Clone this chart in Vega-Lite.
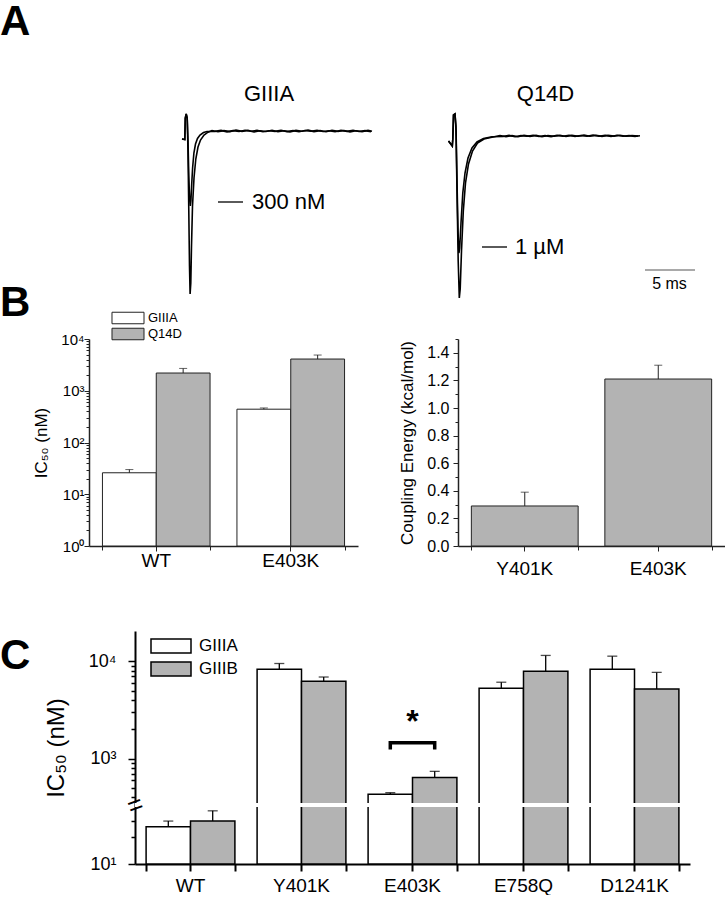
{
  "$schema": "https://vega.github.io/schema/vega-lite/v6.json",
  "padding": 0,
  "background": "white",
  "config": {
    "font": "Liberation Sans",
    "view": {"stroke": null},
    "axis": {"labelColor": "black", "titleColor": "black", "domainColor": "black", "tickColor": "black", "grid": false, "labelFont": "Liberation Sans", "titleFont": "Liberation Sans", "titleFontWeight": "normal"},
    "title": {"font": "Liberation Sans", "color": "black"},
    "legend": {"labelFont": "Liberation Sans", "labelColor": "black", "padding": 0},
    "text": {"font": "Liberation Sans", "color": "black"}
  },
  "datasets": {
    "traceG": [
      {"s": "control", "k": 0, "t": 0, "i": -0.08}, {"s": "control", "k": 1, "t": 0.28, "i": -0.085}, {"s": "control", "k": 2, "t": 0.33, "i": 0.13}, {"s": "control", "k": 3, "t": 0.42, "i": 0.17}, {"s": "control", "k": 4, "t": 0.52, "i": 0.13},
      {"s": "control", "k": 5, "t": 0.6, "i": -0.2}, {"s": "control", "k": 6, "t": 0.68, "i": -0.8}, {"s": "control", "k": 7, "t": 0.75, "i": -1.35}, {"s": "control", "k": 8, "t": 0.81, "i": -1.63}, {"s": "control", "k": 9, "t": 0.88, "i": -1.52},
      {"s": "control", "k": 10, "t": 0.95, "i": -1.15}, {"s": "control", "k": 11, "t": 1.05, "i": -0.75}, {"s": "control", "k": 12, "t": 1.2, "i": -0.47}, {"s": "control", "k": 13, "t": 1.38, "i": -0.28}, {"s": "control", "k": 14, "t": 1.6, "i": -0.16},
      {"s": "control", "k": 15, "t": 1.85, "i": -0.09}, {"s": "control", "k": 16, "t": 2.2, "i": -0.04}, {"s": "control", "k": 17, "t": 2.6, "i": -0.012},
      {"s": "control", "k": 18, "t": 3.0, "i": 0.005}, {"s": "control", "k": 19, "t": 3.6, "i": -0.008}, {"s": "control", "k": 20, "t": 4.2, "i": 0.004}, {"s": "control", "k": 21, "t": 4.8, "i": -0.006}, {"s": "control", "k": 22, "t": 5.4, "i": 0.01},
      {"s": "control", "k": 23, "t": 6.0, "i": -0.004}, {"s": "control", "k": 24, "t": 6.6, "i": 0.006}, {"s": "control", "k": 25, "t": 7.2, "i": -0.01}, {"s": "control", "k": 26, "t": 7.8, "i": 0.003}, {"s": "control", "k": 27, "t": 8.4, "i": -0.005},
      {"s": "control", "k": 28, "t": 9.0, "i": 0.008}, {"s": "control", "k": 29, "t": 9.6, "i": -0.007}, {"s": "control", "k": 30, "t": 10.2, "i": 0.002}, {"s": "control", "k": 31, "t": 10.8, "i": -0.009}, {"s": "control", "k": 32, "t": 11.4, "i": 0.006},
      {"s": "control", "k": 33, "t": 12.0, "i": -0.003}, {"s": "control", "k": 34, "t": 12.6, "i": 0.009}, {"s": "control", "k": 35, "t": 13.2, "i": -0.006}, {"s": "control", "k": 36, "t": 13.8, "i": 0.004}, {"s": "control", "k": 37, "t": 14.4, "i": -0.008},
      {"s": "control", "k": 38, "t": 15.0, "i": 0.007}, {"s": "control", "k": 39, "t": 15.6, "i": -0.004}, {"s": "control", "k": 40, "t": 16.2, "i": 0.005}, {"s": "control", "k": 41, "t": 16.8, "i": -0.009}, {"s": "control", "k": 42, "t": 17.4, "i": 0.003},
      {"s": "control", "k": 43, "t": 18.0, "i": -0.006}, {"s": "control", "k": 44, "t": 18.6, "i": 0.006}, {"s": "control", "k": 45, "t": 19.0, "i": -0.003},
      {"s": "toxin", "k": 0, "t": 0, "i": -0.08}, {"s": "toxin", "k": 1, "t": 0.28, "i": -0.085}, {"s": "toxin", "k": 2, "t": 0.33, "i": 0.13}, {"s": "toxin", "k": 3, "t": 0.42, "i": 0.17}, {"s": "toxin", "k": 4, "t": 0.52, "i": 0.13},
      {"s": "toxin", "k": 5, "t": 0.6, "i": -0.1}, {"s": "toxin", "k": 6, "t": 0.68, "i": -0.45}, {"s": "toxin", "k": 7, "t": 0.76, "i": -0.68}, {"s": "toxin", "k": 8, "t": 0.83, "i": -0.75}, {"s": "toxin", "k": 9, "t": 0.89, "i": -0.7},
      {"s": "toxin", "k": 10, "t": 0.96, "i": -0.55}, {"s": "toxin", "k": 11, "t": 1.06, "i": -0.37}, {"s": "toxin", "k": 12, "t": 1.19, "i": -0.22}, {"s": "toxin", "k": 13, "t": 1.35, "i": -0.13}, {"s": "toxin", "k": 14, "t": 1.55, "i": -0.075},
      {"s": "toxin", "k": 15, "t": 1.8, "i": -0.04}, {"s": "toxin", "k": 16, "t": 2.15, "i": -0.015}, {"s": "toxin", "k": 17, "t": 2.5, "i": -0.005},
      {"s": "toxin", "k": 18, "t": 3.3, "i": -0.004}, {"s": "toxin", "k": 19, "t": 3.9, "i": 0.006}, {"s": "toxin", "k": 20, "t": 4.5, "i": -0.009}, {"s": "toxin", "k": 21, "t": 5.1, "i": 0.004}, {"s": "toxin", "k": 22, "t": 5.7, "i": -0.005},
      {"s": "toxin", "k": 23, "t": 6.3, "i": 0.008}, {"s": "toxin", "k": 24, "t": 6.9, "i": -0.003}, {"s": "toxin", "k": 25, "t": 7.5, "i": 0.006}, {"s": "toxin", "k": 26, "t": 8.1, "i": -0.008}, {"s": "toxin", "k": 27, "t": 8.7, "i": 0.003},
      {"s": "toxin", "k": 28, "t": 9.3, "i": -0.004}, {"s": "toxin", "k": 29, "t": 9.9, "i": 0.007}, {"s": "toxin", "k": 30, "t": 10.5, "i": -0.006}, {"s": "toxin", "k": 31, "t": 11.1, "i": 0.004}, {"s": "toxin", "k": 32, "t": 11.7, "i": -0.007},
      {"s": "toxin", "k": 33, "t": 12.3, "i": 0.005}, {"s": "toxin", "k": 34, "t": 12.9, "i": -0.003}, {"s": "toxin", "k": 35, "t": 13.5, "i": 0.008}, {"s": "toxin", "k": 36, "t": 14.1, "i": -0.005}, {"s": "toxin", "k": 37, "t": 14.7, "i": 0.002},
      {"s": "toxin", "k": 38, "t": 15.3, "i": -0.008}, {"s": "toxin", "k": 39, "t": 15.9, "i": 0.006}, {"s": "toxin", "k": 40, "t": 16.5, "i": -0.004}, {"s": "toxin", "k": 41, "t": 17.1, "i": 0.007}, {"s": "toxin", "k": 42, "t": 17.7, "i": -0.005},
      {"s": "toxin", "k": 43, "t": 18.3, "i": 0.004}, {"s": "toxin", "k": 44, "t": 18.9, "i": -0.006}
    ],
    "traceQ": [
      {"s": "control", "k": 0, "t": -0.15, "i": -0.1}, {"s": "control", "k": 1, "t": 0.23, "i": -0.15}, {"s": "control", "k": 2, "t": 0.28, "i": -0.08}, {"s": "control", "k": 3, "t": 0.35, "i": 0.16}, {"s": "control", "k": 4, "t": 0.5, "i": 0.17},
      {"s": "control", "k": 5, "t": 0.6, "i": 0.0}, {"s": "control", "k": 6, "t": 0.7, "i": -0.6}, {"s": "control", "k": 7, "t": 0.82, "i": -1.3}, {"s": "control", "k": 8, "t": 0.93, "i": -1.67}, {"s": "control", "k": 9, "t": 1.02, "i": -1.58},
      {"s": "control", "k": 10, "t": 1.15, "i": -1.2}, {"s": "control", "k": 11, "t": 1.33, "i": -0.8}, {"s": "control", "k": 12, "t": 1.55, "i": -0.52}, {"s": "control", "k": 13, "t": 1.85, "i": -0.33}, {"s": "control", "k": 14, "t": 2.25, "i": -0.2},
      {"s": "control", "k": 15, "t": 2.75, "i": -0.12}, {"s": "control", "k": 16, "t": 3.4, "i": -0.08}, {"s": "control", "k": 17, "t": 4.3, "i": -0.06},
      {"s": "control", "k": 18, "t": 5.0, "i": -0.045}, {"s": "control", "k": 19, "t": 5.6, "i": -0.056}, {"s": "control", "k": 20, "t": 6.2, "i": -0.046}, {"s": "control", "k": 21, "t": 6.8, "i": -0.057}, {"s": "control", "k": 22, "t": 7.4, "i": -0.043},
      {"s": "control", "k": 23, "t": 8.0, "i": -0.054}, {"s": "control", "k": 24, "t": 8.6, "i": -0.044}, {"s": "control", "k": 25, "t": 9.2, "i": -0.058}, {"s": "control", "k": 26, "t": 9.8, "i": -0.045}, {"s": "control", "k": 27, "t": 10.4, "i": -0.052},
      {"s": "control", "k": 28, "t": 11.0, "i": -0.042}, {"s": "control", "k": 29, "t": 11.6, "i": -0.055}, {"s": "control", "k": 30, "t": 12.2, "i": -0.044}, {"s": "control", "k": 31, "t": 12.8, "i": -0.053}, {"s": "control", "k": 32, "t": 13.4, "i": -0.041},
      {"s": "control", "k": 33, "t": 14.0, "i": -0.052}, {"s": "control", "k": 34, "t": 14.6, "i": -0.043}, {"s": "control", "k": 35, "t": 15.2, "i": -0.054}, {"s": "control", "k": 36, "t": 15.8, "i": -0.042}, {"s": "control", "k": 37, "t": 16.4, "i": -0.051},
      {"s": "control", "k": 38, "t": 17.0, "i": -0.043}, {"s": "control", "k": 39, "t": 17.6, "i": -0.053}, {"s": "control", "k": 40, "t": 18.2, "i": -0.045}, {"s": "control", "k": 41, "t": 18.8, "i": -0.05},
      {"s": "toxin", "k": 0, "t": -0.15, "i": -0.1}, {"s": "toxin", "k": 1, "t": 0.23, "i": -0.15}, {"s": "toxin", "k": 2, "t": 0.28, "i": -0.08}, {"s": "toxin", "k": 3, "t": 0.35, "i": 0.16}, {"s": "toxin", "k": 4, "t": 0.5, "i": 0.17},
      {"s": "toxin", "k": 5, "t": 0.6, "i": 0.05}, {"s": "toxin", "k": 6, "t": 0.7, "i": -0.5}, {"s": "toxin", "k": 7, "t": 0.8, "i": -1.0}, {"s": "toxin", "k": 8, "t": 0.89, "i": -1.22}, {"s": "toxin", "k": 9, "t": 0.97, "i": -1.17},
      {"s": "toxin", "k": 10, "t": 1.1, "i": -0.92}, {"s": "toxin", "k": 11, "t": 1.28, "i": -0.62}, {"s": "toxin", "k": 12, "t": 1.5, "i": -0.42}, {"s": "toxin", "k": 13, "t": 1.8, "i": -0.27}, {"s": "toxin", "k": 14, "t": 2.2, "i": -0.17},
      {"s": "toxin", "k": 15, "t": 2.7, "i": -0.11}, {"s": "toxin", "k": 16, "t": 3.35, "i": -0.075}, {"s": "toxin", "k": 17, "t": 4.2, "i": -0.058},
      {"s": "toxin", "k": 18, "t": 5.3, "i": -0.055}, {"s": "toxin", "k": 19, "t": 5.9, "i": -0.044}, {"s": "toxin", "k": 20, "t": 6.5, "i": -0.057}, {"s": "toxin", "k": 21, "t": 7.1, "i": -0.046}, {"s": "toxin", "k": 22, "t": 7.7, "i": -0.053},
      {"s": "toxin", "k": 23, "t": 8.3, "i": -0.042}, {"s": "toxin", "k": 24, "t": 8.9, "i": -0.055}, {"s": "toxin", "k": 25, "t": 9.5, "i": -0.046}, {"s": "toxin", "k": 26, "t": 10.1, "i": -0.056}, {"s": "toxin", "k": 27, "t": 10.7, "i": -0.044},
      {"s": "toxin", "k": 28, "t": 11.3, "i": -0.052}, {"s": "toxin", "k": 29, "t": 11.9, "i": -0.043}, {"s": "toxin", "k": 30, "t": 12.5, "i": -0.054}, {"s": "toxin", "k": 31, "t": 13.1, "i": -0.045}, {"s": "toxin", "k": 32, "t": 13.7, "i": -0.052},
      {"s": "toxin", "k": 33, "t": 14.3, "i": -0.041}, {"s": "toxin", "k": 34, "t": 14.9, "i": -0.053}, {"s": "toxin", "k": 35, "t": 15.5, "i": -0.044}, {"s": "toxin", "k": 36, "t": 16.1, "i": -0.055}, {"s": "toxin", "k": 37, "t": 16.7, "i": -0.043},
      {"s": "toxin", "k": 38, "t": 17.3, "i": -0.052}, {"s": "toxin", "k": 39, "t": 17.9, "i": -0.046}, {"s": "toxin", "k": 40, "t": 18.5, "i": -0.054}, {"s": "toxin", "k": 41, "t": 19.0, "i": -0.048}
    ],
    "annG": [{"t": 3.6, "t2": 6.1, "i": -0.71, "label": "300 nM", "tl": 7.0}],
    "annQ": [{"t": 3.2, "t2": 5.7, "i": -1.16, "label": "1 µM", "tl": 6.5}],
    "scalebar": [{"t": 19.5, "t2": 24.5, "i": -1.39, "label": "5 ms", "tl": 21.95, "il": -1.53}],
    "b1": [
      {"g": "WT", "tox": "GIIIA", "v": 26, "hi": 30},
      {"g": "WT", "tox": "Q14D", "v": 2200, "hi": 2700},
      {"g": "E403K", "tox": "GIIIA", "v": 440, "hi": 465},
      {"g": "E403K", "tox": "Q14D", "v": 4100, "hi": 4900}
    ],
    "b2": [
      {"m": "Y401K", "e": 0.29, "hi": 0.39},
      {"m": "E403K", "e": 1.21, "hi": 1.31}
    ],
    "c": [
      {"m": "WT", "tox": "GIIIA", "v": 26, "hi": 30},
      {"m": "WT", "tox": "GIIIB", "v": 30, "hi": 39},
      {"m": "Y401K", "tox": "GIIIA", "v": 8300, "hi": 9500},
      {"m": "Y401K", "tox": "GIIIB", "v": 6250, "hi": 6900},
      {"m": "E403K", "tox": "GIIIA", "v": 430, "hi": 446},
      {"m": "E403K", "tox": "GIIIB", "v": 640, "hi": 740},
      {"m": "E758Q", "tox": "GIIIA", "v": 5300, "hi": 6100},
      {"m": "E758Q", "tox": "GIIIB", "v": 7900, "hi": 11500},
      {"m": "D1241K", "tox": "GIIIA", "v": 8300, "hi": 11300},
      {"m": "D1241K", "tox": "GIIIB", "v": 5200, "hi": 7700}
    ],
    "bracket": [
      {"m": "E403K", "tox": "GIIIA", "y": 1240, "k": 0},
      {"m": "E403K", "tox": "GIIIA", "y": 1460, "k": 1},
      {"m": "E403K", "tox": "GIIIB", "y": 1460, "k": 2},
      {"m": "E403K", "tox": "GIIIB", "y": 1240, "k": 3}
    ],
    "star": [{"m": "E403K", "y": 2400, "label": "*"}],
    "brk": [{"b": 120}],
    "empty": [{"z": 0}]
  },
  "columns": 1,
  "spacing": 50,
  "resolve": {"scale": {"fill": "independent", "xOffset": "independent"}, "legend": {"fill": "independent"}},
  "concat": [
    {
      "columns": 1,
      "spacing": -20,
      "resolve": {"scale": {"fill": "independent", "xOffset": "independent"}, "legend": {"fill": "independent"}},
      "concat": [
        {
          "title": {"text": "A", "anchor": "start", "frame": "group", "fontSize": 42, "fontWeight": "bold", "offset": 39},
          "bounds": "flush",
          "spacing": 17,
          "hconcat": [
            {
              "width": 378, "height": 187,
              "title": {"text": "GIIIA", "fontSize": 22, "fontWeight": "normal", "dx": 80, "offset": 5},
              "layer": [
                {
                  "data": {"name": "traceG"},
                  "mark": {"type": "line", "color": "black", "strokeWidth": 1.6},
                  "encoding": {
                    "x": {"field": "t", "type": "quantitative", "scale": {"domain": [-18.2, 19.6], "nice": false, "zero": false}, "axis": null},
                    "y": {"field": "i", "type": "quantitative", "scale": {"domain": [-1.68, 0.19], "nice": false, "zero": false}, "axis": null},
                    "detail": {"field": "s"},
                    "order": {"field": "k", "type": "quantitative"}
                  }
                },
                {
                  "data": {"name": "annG"},
                  "mark": {"type": "rule", "color": "black", "strokeWidth": 1.3},
                  "encoding": {"x": {"field": "t", "type": "quantitative"}, "x2": {"field": "t2"}, "y": {"field": "i", "type": "quantitative"}}
                },
                {
                  "data": {"name": "annG"},
                  "mark": {"type": "text", "fontSize": 22, "align": "left", "baseline": "middle"},
                  "encoding": {"x": {"field": "tl", "type": "quantitative"}, "y": {"field": "i", "type": "quantitative"}, "text": {"field": "label"}}
                }
              ]
            },
            {
              "width": 305, "height": 187,
              "title": {"text": "Q14D", "fontSize": 22, "fontWeight": "normal", "dx": -2, "offset": 5},
              "layer": [
                {
                  "data": {"name": "traceQ"},
                  "mark": {"type": "line", "color": "black", "strokeWidth": 1.6},
                  "encoding": {
                    "x": {"field": "t", "type": "quantitative", "scale": {"domain": [-5.5, 25], "nice": false, "zero": false}, "axis": null},
                    "y": {"field": "i", "type": "quantitative", "scale": {"domain": [-1.68, 0.19], "nice": false, "zero": false}, "axis": null},
                    "detail": {"field": "s"},
                    "order": {"field": "k", "type": "quantitative"}
                  }
                },
                {
                  "data": {"name": "annQ"},
                  "mark": {"type": "rule", "color": "black", "strokeWidth": 1.3},
                  "encoding": {"x": {"field": "t", "type": "quantitative"}, "x2": {"field": "t2"}, "y": {"field": "i", "type": "quantitative"}}
                },
                {
                  "data": {"name": "annQ"},
                  "mark": {"type": "text", "fontSize": 22, "align": "left", "baseline": "middle"},
                  "encoding": {"x": {"field": "tl", "type": "quantitative"}, "y": {"field": "i", "type": "quantitative"}, "text": {"field": "label"}}
                },
                {
                  "data": {"name": "scalebar"},
                  "mark": {"type": "rule", "color": "#555", "strokeWidth": 1.2},
                  "encoding": {"x": {"field": "t", "type": "quantitative"}, "x2": {"field": "t2"}, "y": {"field": "i", "type": "quantitative"}}
                },
                {
                  "data": {"name": "scalebar"},
                  "mark": {"type": "text", "fontSize": 16, "align": "center", "baseline": "middle"},
                  "encoding": {"x": {"field": "tl", "type": "quantitative"}, "y": {"field": "il", "type": "quantitative"}, "text": {"field": "label"}}
                }
              ]
            }
          ]
        },
        {
          "title": {"text": "B", "anchor": "start", "frame": "group", "fontSize": 42, "fontWeight": "bold", "offset": -14},
          "bounds": "flush",
          "spacing": 0,
          "resolve": {"scale": {"fill": "independent", "xOffset": "independent"}, "legend": {"fill": "independent"}},
          "hconcat": [
            {"width": 89, "height": 1, "data": {"name": "empty"}, "mark": {"type": "point", "opacity": 0}},
            {
              "bounds": "flush",
              "spacing": 100,
              "resolve": {"scale": {"fill": "independent", "xOffset": "independent"}, "legend": {"fill": "independent"}},
              "hconcat": [
                {
                  "width": 269, "height": 207,
                  "data": {"name": "b1"},
                  "layer": [
                    {
                      "mark": {"type": "bar", "stroke": "#222", "strokeWidth": 1},
                      "encoding": {
                        "x": {"field": "g", "type": "nominal", "sort": ["WT", "E403K"], "scale": {"paddingInner": 0.2, "paddingOuter": 0.1},
                              "axis": {"title": null, "orient": "bottom", "labelAngle": 0, "labelFontSize": 19, "labelPadding": 0, "tickSize": 5, "domainWidth": 1.5, "domainColor": "#222", "tickColor": "#222"}},
                        "xOffset": {"field": "tox", "type": "nominal", "sort": ["GIIIA", "Q14D"]},
                        "y": {"field": "v", "type": "quantitative", "scale": {"type": "log", "domain": [1, 10000], "nice": false},
                              "axis": {"title": "IC₅₀ (nM)", "orient": "left", "titleFontSize": 17, "titlePadding": 10,
                                       "values": [1,2,3,4,5,6,7,8,9,10,20,30,40,50,60,70,80,90,100,200,300,400,500,600,700,800,900,1000,2000,3000,4000,5000,6000,7000,8000,9000,10000],
                                       "labelExpr": "datum.value==1?'10⁰':datum.value==10?'10¹':datum.value==100?'10²':datum.value==1000?'10³':datum.value==10000?'10⁴':''",
                                       "labelFontSize": 15, "labelOverlap": false, "labelPadding": 0,
                                       "tickSize": {"condition": {"test": "indexof([1,10,100,1000,10000], datum.value) >= 0", "value": 5}, "value": 3},
                                       "domainWidth": 1.5, "domainColor": "#222", "tickColor": "#222"}},
                        "y2": {"datum": 1},
                        "fill": {"field": "tox", "type": "nominal", "scale": {"domain": ["GIIIA", "Q14D"], "range": ["white", "#b3b3b3"]},
                                 "legend": {"title": null, "orient": "none", "legendX": 32, "legendY": -28, "symbolType": "M-2.5,-0.9H2.5V0.9H-2.5Z", "symbolSize": 164, "symbolStrokeColor": "#222", "symbolStrokeWidth": 1, "labelFontSize": 13, "rowPadding": 0, "labelOffset": 13}}
                      }
                    },
                    {
                      "mark": {"type": "rule", "color": "#222", "strokeWidth": 1},
                      "encoding": {
                        "x": {"field": "g", "type": "nominal", "sort": ["WT", "E403K"], "axis": {"title": null, "orient": "bottom", "labels": false, "domain": false, "tickBand": "extent", "tickSize": 4, "tickColor": "#222"}},
                        "xOffset": {"field": "tox", "type": "nominal", "sort": ["GIIIA", "Q14D"]},
                        "y": {"field": "v", "type": "quantitative", "axis": null},
                        "y2": {"field": "hi"}
                      }
                    },
                    {
                      "mark": {"type": "tick", "color": "#222", "size": 8, "thickness": 1},
                      "encoding": {
                        "x": {"field": "g", "type": "nominal", "sort": ["WT", "E403K"], "axis": null},
                        "xOffset": {"field": "tox", "type": "nominal", "sort": ["GIIIA", "Q14D"]},
                        "y": {"field": "hi", "type": "quantitative", "axis": null}
                      }
                    }
                  ],
                  "resolve": {"axis": {"x": "independent", "y": "independent"}}
                },
                {
                  "width": 267, "height": 207,
                  "data": {"name": "b2"},
                  "layer": [
                    {
                      "mark": {"type": "bar", "fill": "#b3b3b3", "stroke": "#222", "strokeWidth": 1},
                      "encoding": {
                        "x": {"field": "m", "type": "nominal", "sort": ["Y401K", "E403K"], "scale": {"paddingInner": 0.2, "paddingOuter": 0.1},
                              "axis": {"title": null, "orient": "bottom", "labelAngle": 0, "labelFontSize": 19, "labelPadding": 8, "tickSize": 5, "domainWidth": 1.5, "domainColor": "#222", "tickColor": "#222"}},
                        "y": {"field": "e", "type": "quantitative", "scale": {"domain": [0, 1.5], "nice": false},
                              "axis": {"title": "Coupling Energy (kcal/mol)", "orient": "left", "titleFontSize": 17, "titlePadding": 10,
                                       "values": [0,0.1,0.2,0.3,0.4,0.5,0.6,0.7,0.8,0.9,1.0,1.1,1.2,1.3,1.4,1.5],
                                       "labelExpr": "round(datum.value*10)%2==0 && datum.value<1.45 ? format(datum.value,'.1f') : ''",
                                       "labelFontSize": 16, "labelOverlap": false, "labelPadding": 4,
                                       "tickSize": {"condition": {"test": "round(datum.value*10)%2==0", "value": 5}, "value": 3},
                                       "domainWidth": 1.5, "domainColor": "#222", "tickColor": "#222"}}
                      }
                    },
                    {
                      "mark": {"type": "rule", "color": "#222", "strokeWidth": 1},
                      "encoding": {
                        "x": {"field": "m", "type": "nominal", "sort": ["Y401K", "E403K"], "axis": {"title": null, "orient": "bottom", "labels": false, "domain": false, "tickBand": "extent", "tickSize": 4, "tickColor": "#222"}},
                        "y": {"field": "e", "type": "quantitative", "axis": null},
                        "y2": {"field": "hi"}
                      }
                    },
                    {
                      "mark": {"type": "tick", "color": "#222", "size": 8, "thickness": 1},
                      "encoding": {
                        "x": {"field": "m", "type": "nominal", "sort": ["Y401K", "E403K"], "axis": null},
                        "y": {"field": "hi", "type": "quantitative", "axis": null}
                      }
                    }
                  ],
                  "resolve": {"axis": {"x": "independent", "y": "independent"}}
                }
              ]
            }
          ]
        }
      ]
    },
    {
      "title": {"text": "C", "anchor": "start", "frame": "group", "fontSize": 42, "fontWeight": "bold", "offset": -49},
      "bounds": "flush",
      "spacing": 0,
      "resolve": {"scale": {"fill": "independent", "xOffset": "independent"}, "legend": {"fill": "independent"}},
      "hconcat": [
        {"width": 135, "height": 1, "data": {"name": "empty"}, "mark": {"type": "point", "opacity": 0}},
        {
          "width": 555, "height": 233,
          "layer": [
            {
              "data": {"name": "c"},
              "mark": {"type": "bar", "stroke": "black", "strokeWidth": 1.5},
              "encoding": {
                "x": {"field": "m", "type": "nominal", "sort": ["WT", "Y401K", "E403K", "E758Q", "D1241K"], "scale": {"paddingInner": 0.2, "paddingOuter": 0.1},
                      "axis": {"title": null, "orient": "bottom", "labelAngle": 0, "labelFontSize": 19, "labelPadding": 5, "tickSize": 7, "tickWidth": 2, "domainWidth": 2}},
                "xOffset": {"field": "tox", "type": "nominal", "sort": ["GIIIA", "GIIIB"]},
                "y": {"field": "v", "type": "quantitative", "scale": {"type": "log", "domain": [10, 43, 350, 20500], "range": [233, 176, 172, 0], "nice": false, "zero": false},
                      "axis": {"title": "IC₅₀ (nM)", "orient": "left", "titleFontSize": 24, "titlePadding": 20,
                               "values": [10,20,30,400,500,600,700,800,900,1000,2000,3000,4000,5000,6000,7000,8000,9000,10000],
                               "labelExpr": "datum.value==10?'10¹':datum.value==1000?'10³':datum.value==10000?'10⁴':''",
                               "labelFontSize": 18, "labelOverlap": false, "labelPadding": 12,
                               "tickSize": {"condition": {"test": "indexof([10,1000,10000], datum.value) >= 0", "value": 7}, "value": 4},
                               "tickWidth": 1.5, "domainWidth": 2}},
                "y2": {"datum": 10},
                "fill": {"field": "tox", "type": "nominal", "scale": {"domain": ["GIIIA", "GIIIB"], "range": ["white", "#b3b3b3"]},
                         "legend": {"title": null, "orient": "none", "legendX": 27, "legendY": 6, "symbolType": "M-2.5,-0.875H2.5V0.875H-2.5Z", "symbolSize": 256, "symbolStrokeColor": "black", "symbolStrokeWidth": 1.5, "labelFontSize": 17, "rowPadding": 3, "labelOffset": 19}}
              }
            },
            {
              "data": {"name": "c"},
              "mark": {"type": "rule", "color": "black", "strokeWidth": 1.3},
              "encoding": {
                "x": {"field": "m", "type": "nominal", "sort": ["WT", "Y401K", "E403K", "E758Q", "D1241K"], "axis": {"title": null, "orient": "bottom", "labels": false, "domain": false, "tickBand": "extent", "tickSize": 7, "tickWidth": 2}},
                "xOffset": {"field": "tox", "type": "nominal", "sort": ["GIIIA", "GIIIB"]},
                "y": {"field": "v", "type": "quantitative", "axis": null},
                "y2": {"field": "hi"}
              }
            },
            {
              "data": {"name": "c"},
              "mark": {"type": "tick", "color": "black", "size": 10, "thickness": 1.3},
              "encoding": {
                "x": {"field": "m", "type": "nominal", "sort": ["WT", "Y401K", "E403K", "E758Q", "D1241K"], "axis": null},
                "xOffset": {"field": "tox", "type": "nominal", "sort": ["GIIIA", "GIIIB"]},
                "y": {"field": "hi", "type": "quantitative", "axis": null}
              }
            },
            {
              "data": {"name": "brk"},
              "mark": {"type": "rule", "color": "white", "strokeWidth": 4},
              "encoding": {
                "y": {"field": "b", "type": "quantitative",
                      "axis": {"title": null, "orient": "left", "values": [120], "domain": false, "ticks": false, "tickSize": 0, "grid": false, "labelExpr": "'='", "labelFontSize": 26, "labelAngle": -20, "labelAlign": "center", "labelBaseline": "middle", "labelPadding": 0, "zindex": 2}}
              }
            },
            {
              "data": {"name": "bracket"},
              "mark": {"type": "line", "color": "black", "strokeWidth": 3.5},
              "encoding": {
                "x": {"field": "m", "type": "nominal", "sort": ["WT", "Y401K", "E403K", "E758Q", "D1241K"], "axis": null},
                "xOffset": {"field": "tox", "type": "nominal", "sort": ["GIIIA", "GIIIB"]},
                "y": {"field": "y", "type": "quantitative", "axis": null},
                "order": {"field": "k", "type": "quantitative"}
              }
            },
            {
              "data": {"name": "star"},
              "mark": {"type": "text", "fontSize": 32, "fontWeight": "bold", "baseline": "middle", "align": "center"},
              "encoding": {
                "x": {"field": "m", "type": "nominal", "sort": ["WT", "Y401K", "E403K", "E758Q", "D1241K"], "axis": null},
                "y": {"field": "y", "type": "quantitative", "axis": null},
                "text": {"field": "label"}
              }
            }
          ],
          "resolve": {"axis": {"x": "independent", "y": "independent"}}
        }
      ]
    }
  ]
}
